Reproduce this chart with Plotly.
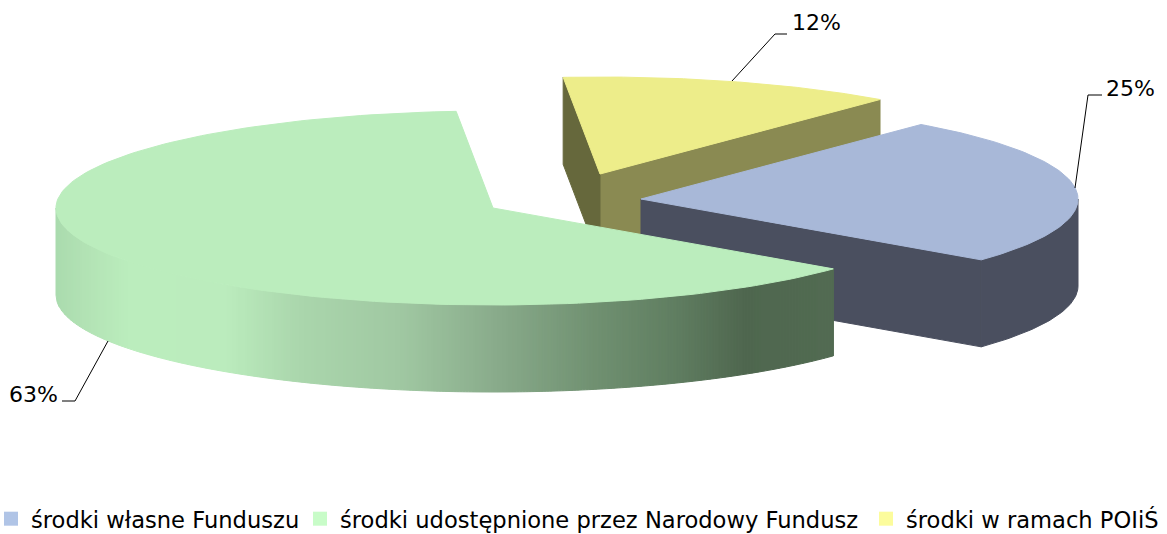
import math
import numpy as np
import plotly.graph_objects as go

categories = ["środki własne Funduszu", "środki udostępnione przez Narodowy Fundusz", "środki w ramach POIiŚ"]
values = [24.7, 62.8, 12.4]

LEGEND_COLORS = ["#b0c4e6", "#c8fcc8", "#fcfc9c"]
LEGEND_SYMBOL_X = [11, 320, 886]
TOP_COLORS = ["#a8b8d8", "#bbedbd", "#eded8a"]
APEX = [(641, 199), (493, 208), (600, 174)]
LABEL_POS = [(1130, 88), (33, 394), (816, 22)]
LEADERS = [[(1075, 188), (1088, 95), (1102, 95)],
           [(108, 341), (75, 401), (62, 401)],
           [(732, 81), (775, 34), (787, 34)]]
A, B, DEPTH, START = 437, 97, 87, 39.85

GREEN_STOPS = [(57, "#aadbae"), (85, "#b2e2b4"), (130, "#bbedbd"), (225, "#bbecbd"),
               (300, "#aad6ac"), (400, "#a0c8a2"), (500, "#88aa8a"), (600, "#6f8f70"),
               (680, "#5f7d60"), (745, "#4f674f"), (833, "#526b52")]


def hex_rgb(c):
    return [int(c[i:i + 2], 16) for i in (1, 3, 5)]


def green_at(x):
    xs = [s[0] for s in GREEN_STOPS]
    rgb = [np.interp(x, xs, [hex_rgb(s[1])[k] for s in GREEN_STOPS]) for k in range(3)]
    return "rgb(%d,%d,%d)" % tuple(round(v) for v in rgb)


def rim(apex, t):
    r = math.radians(t)
    return apex[0] + A * math.sin(r), apex[1] - B * math.cos(r)


def poly(fig, pts, color):
    fig.add_trace(go.Scatter(
        x=[p[0] for p in pts] + [pts[0][0]], y=[p[1] for p in pts] + [pts[0][1]],
        mode="lines", fill="toself", fillcolor=color,
        line=dict(color=color, width=1),
        hoverinfo="skip", showlegend=False))


def down(p):
    return p[0], p[1] + DEPTH


# angular spans from the data
total = sum(values)
spans = []
a0 = START
for v in values:
    a1 = a0 + 360 * v / total
    spans.append((a0, a1))
    a0 = a1

fig = go.Figure()

# yellow (back)
i = 2
s, e = spans[i]
ap = APEX[i]
ps, pe = rim(ap, s), rim(ap, e)
poly(fig, [pe, ap, down(ap), down(pe)], "#8a8a52")
poly(fig, [ps, ap, down(ap), down(ps)], "#66683c")
poly(fig, [ap] + [rim(ap, t) for t in np.linspace(s, e, 80)], TOP_COLORS[i])

# blue
i = 0
s, e = spans[i]
ap = APEX[i]
pe = rim(ap, e)
arc = [rim(ap, t) for t in np.linspace(90, e, 50)]
poly(fig, [ap, pe, down(pe), down(ap)], "#4a4f5f")
poly(fig, arc + [down(p) for p in reversed(arc)], "#4a4f5f")
poly(fig, [ap] + [rim(ap, t) for t in np.linspace(s, e, 80)], TOP_COLORS[i])

# green (front), wall shaded in vertical strips
i = 1
s, e = spans[i]
ap = APEX[i]
x_left, x_right = ap[0] - A, rim(ap, s)[0]
edges = np.arange(x_left, x_right + 3, 3.0)
edges[-1] = x_right
for x0, x1 in zip(edges[:-1], edges[1:]):
    xs = np.linspace(x0, x1, 4)
    lo = [(x, ap[1] + B * math.sqrt(max(0, 1 - ((x - ap[0]) / A) ** 2))) for x in xs]
    poly(fig, lo + [down(p) for p in reversed(lo)], green_at((x0 + x1) / 2))
poly(fig, [ap] + [rim(ap, t) for t in np.linspace(s, e, 160)], TOP_COLORS[i])

# leader lines and labels
for idx, pts in enumerate(LEADERS):
    fig.add_trace(go.Scatter(x=[p[0] for p in pts], y=[p[1] for p in pts], mode="lines",
                             line=dict(color="#000000", width=1), hoverinfo="skip", showlegend=False))
    fig.add_annotation(x=LABEL_POS[idx][0], y=LABEL_POS[idx][1], text=f"{values[idx]:.0f}%", showarrow=False,
                       font=dict(family="DejaVu Sans", size=22, color="#000000"))

# legend: one single-entry legend per category so each can sit where the reference has it
legend_layout = {}
for k, (name, col, sx) in enumerate(zip(categories, LEGEND_COLORS, LEGEND_SYMBOL_X)):
    key = "legend" if k == 0 else f"legend{k + 1}"
    fig.add_trace(go.Scatter(x=[None], y=[None], mode="markers", name=name, legend=key,
                             showlegend=True, marker=dict(symbol="square", size=14, color=col)))
    legend_layout[key] = dict(x=(sx - 20) / 1167, xanchor="left", y=1 - 519 / 534, yanchor="middle",
                              font=dict(family="DejaVu Sans", size=22.6, color="#000000"),
                              itemwidth=30, itemclick=False, itemdoubleclick=False,
                              bgcolor="rgba(0,0,0,0)")

fig.update_layout(
    width=1167, height=534, margin=dict(l=0, r=0, t=0, b=0, autoexpand=False),
    paper_bgcolor="#ffffff", plot_bgcolor="#ffffff",
    xaxis=dict(range=[0, 1167], visible=False, fixedrange=True),
    yaxis=dict(range=[534, 0], visible=False, fixedrange=True),
    **legend_layout,
)
fig.write_html("out.html", config={"displayModeBar": False},
               post_script="document.body.style.margin='0';document.body.style.overflow='hidden';")
